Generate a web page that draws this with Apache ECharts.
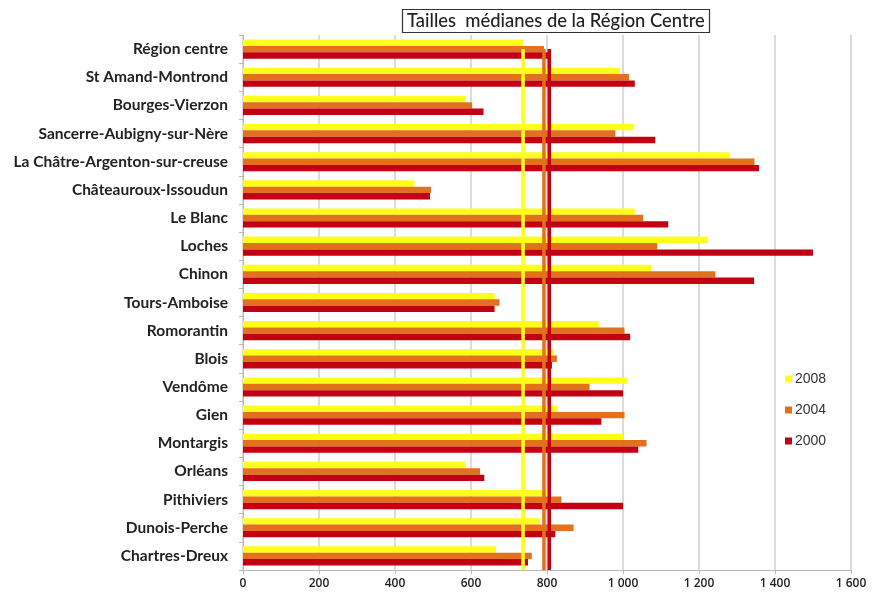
<!DOCTYPE html>
<html>
<head>
<meta charset="utf-8">
<script src="https://cdn.jsdelivr.net/npm/echarts@6/dist/echarts.min.js"></script>
<style>
  html, body { margin: 0; padding: 0; background: #fff; }
  #chart { width: 872px; height: 592px; }
</style>
</head>
<body>
<div id="chart"></div>
<script>
// Zones d'emploi, de haut en bas
const categories = [
  'Région centre', 'St Amand-Montrond', 'Bourges-Vierzon', 'Sancerre-Aubigny-sur-Nère',
  'La Châtre-Argenton-sur-creuse', 'Châteauroux-Issoudun', 'Le Blanc', 'Loches', 'Chinon',
  'Tours-Amboise', 'Romorantin', 'Blois', 'Vendôme', 'Gien', 'Montargis', 'Orléans',
  'Pithiviers', 'Dunois-Perche', 'Chartres-Dreux'
];
const years = ['2008', '2004', '2000'];
const values2008 = [737, 990, 585, 1028, 1281, 451, 1031, 1223, 1074, 662, 936, 819, 1012, 826, 1000, 585, 800, 782, 666];
const values2004 = [792, 1016, 603, 980, 1346, 495, 1053, 1090, 1243, 675, 1004, 826, 912, 1004, 1062, 624, 838, 870, 760];
const values2000 = [806, 1031, 633, 1085, 1358, 492, 1119, 1500, 1345, 662, 1019, 813, 1000, 943, 1040, 635, 1000, 822, 750];
const xTicks = [0, 200, 400, 600, 800, 1000, 1200, 1400, 1600];

const colors = ['#FFFF1A', '#E2701C', '#C20012'];
const allValues = [values2008, values2004, values2000];

// Thousands separated by a space: 1 000, 1 200 ...
function fmt(v) {
  return String(v).replace(/\B(?=(\d{3})+(?!\d))/g, ' ');
}

// Vertical reference line at the regional median, running down the whole plot
function refLine(color) {
  return function (params, api) {
    const v = api.value(0);
    const x = api.coord([v, categories[0]])[0];
    const yTop = api.coord([v, categories[0]])[1];
    const cs = params.coordSys;
    return {
      type: 'line',
      shape: { x1: x, y1: yTop, x2: x, y2: cs.y + cs.height },
      style: { stroke: color, lineWidth: 3.5 }
    };
  };
}

const barSeries = years.map((y, i) => ({
  name: y,
  type: 'bar',
  data: allValues[i],
  itemStyle: { color: colors[i] },
  barGap: '0%',
  barCategoryGap: '32%',
  z: 2
}));

const lineSeries = years.map((y, i) => ({
  name: y + ' médiane',
  type: 'custom',
  data: [[allValues[i][0]]],
  renderItem: refLine(colors[i]),
  encode: { x: 0 },
  silent: true,
  z: 3 + i
}));

const chart = echarts.init(document.getElementById('chart'), null, { renderer: 'canvas' });
chart.setOption({
  backgroundColor: '#ffffff',
  animation: false,
  title: {
    text: 'Tailles  médianes de la Région Centre',
    left: 402,
    top: 9,
    padding: [2, 5, 1, 5],
    borderColor: '#333',
    borderWidth: 1.2,
    textStyle: { fontFamily: 'Lato', fontSize: 18.4, lineHeight: 21, fontWeight: 500, color: '#222' }
  },
  legend: {
    data: years,
    orient: 'vertical',
    left: 780,
    top: 367,
    itemGap: 17,
    itemWidth: 7,
    itemHeight: 7,
    icon: 'rect',
    textStyle: { fontFamily: 'Liberation Sans', fontSize: 14, color: '#333', padding: [0, 0, 0, -2] }
  },
  grid: { left: 243, right: 21, top: 35, bottom: 22, containLabel: false },
  xAxis: {
    type: 'value',
    min: 0,
    max: 1600,
    interval: 200,
    axisLine: { show: true, lineStyle: { color: '#b8b8b8', width: 1 } },
    axisTick: { show: true, length: 4, lineStyle: { color: '#b8b8b8' } },
    splitLine: { show: true, lineStyle: { color: '#cfcfcf', width: 1.5 } },
    axisLabel: {
      formatter: fmt,
      margin: 8,
      fontFamily: 'Open Sans',
      fontSize: 12,
      fontWeight: 600,
      color: '#222'
    }
  },
  yAxis: {
    type: 'category',
    data: categories,
    inverse: true,
    axisLine: { show: true, lineStyle: { color: '#b8b8b8', width: 1 } },
    axisTick: { show: true, length: 4, lineStyle: { color: '#b8b8b8' } },
    axisLabel: {
      margin: 15,
      fontFamily: 'Lato',
      fontSize: 15.5,
      fontWeight: 700,
      color: '#222'
    }
  },
  series: barSeries.concat(lineSeries)
});
</script>
</body>
</html>
